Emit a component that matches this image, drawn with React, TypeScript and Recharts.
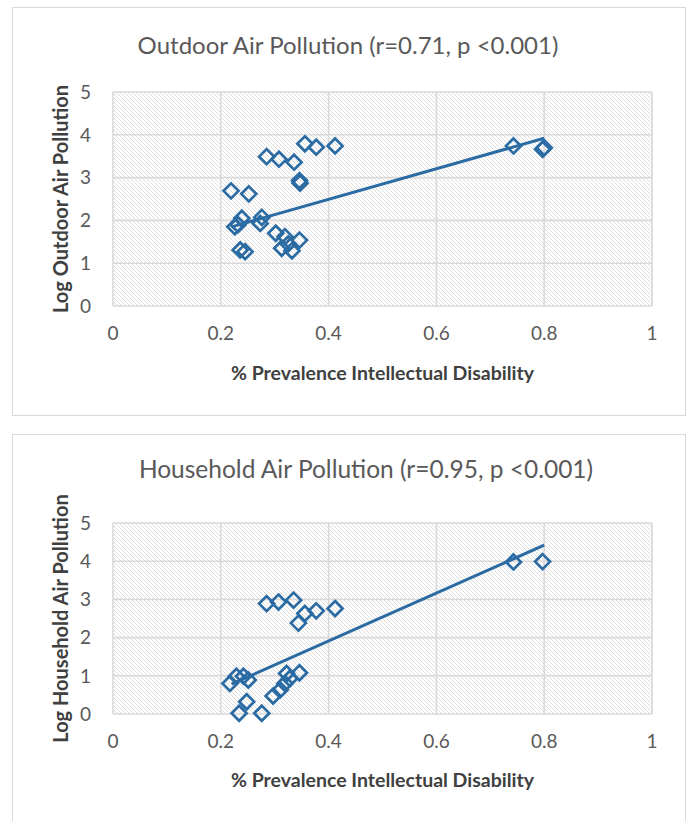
import React from "react";
import { ScatterChart, Scatter, XAxis, YAxis, CartesianGrid } from "recharts";

const xTicks = [0, 0.2, 0.4, 0.6, 0.8, 1];
const yTicks = [0, 1, 2, 3, 4, 5];

const outdoorX = [0.285, 0.308, 0.336, 0.356, 0.377, 0.412, 0.346, 0.347, 0.219, 0.252, 0.239, 0.226, 0.232, 0.276, 0.273, 0.302, 0.319, 0.346, 0.313, 0.332, 0.325, 0.236, 0.245, 0.743, 0.797, 0.8];
const outdoorY = [3.49, 3.43, 3.36, 3.79, 3.71, 3.74, 2.93, 2.87, 2.69, 2.62, 2.05, 1.85, 1.9, 2.07, 1.93, 1.7, 1.62, 1.54, 1.35, 1.29, 1.45, 1.31, 1.27, 3.74, 3.66, 3.7];
const outdoorTrendX = [0.22, 0.8];
const outdoorTrendY = [1.85, 3.92];

const householdX = [0.285, 0.307, 0.335, 0.356, 0.377, 0.412, 0.344, 0.217, 0.229, 0.242, 0.251, 0.297, 0.31, 0.319, 0.328, 0.346, 0.322, 0.248, 0.234, 0.276, 0.743, 0.797];
const householdY = [2.89, 2.93, 2.98, 2.63, 2.7, 2.76, 2.38, 0.8, 0.99, 0.99, 0.89, 0.47, 0.63, 0.8, 0.93, 1.08, 1.06, 0.32, 0.02, 0.02, 3.98, 3.99];
const householdTrendX = [0.22, 0.8];
const householdTrendY = [0.78, 4.42];

const BLUE = "#2b6ba3";
const FONT = "Lato, 'Open Sans', sans-serif";

const toPts = (xs: number[], ys: number[]) => xs.map((x, i) => ({ x, y: ys[i] }));

const Diamond = (props: any) => {
  const { cx, cy } = props;
  if (cx == null || cy == null) return <g />;
  const r = 7.5;
  return (
    <path
      d={`M${cx},${cy - r} L${cx + r},${cy} L${cx},${cy + r} L${cx - r},${cy} Z`}
      fill="none"
      stroke={BLUE}
      strokeWidth={2.7}
      strokeLinejoin="miter"
    />
  );
};

const NoShape = () => <g />;

type PanelProps = {
  id: string;
  top: number;
  height: number;
  marginTop: number;
  xAxisHeight: number;
  yLabel: string;
  points: { x: number; y: number }[];
  trend: { x: number; y: number }[];
};

const Panel = ({ id, top, height, marginTop, xAxisHeight, yLabel, points, trend }: PanelProps) => (
  <div style={{ position: "absolute", left: 0, top }}>
    <ScatterChart
      width={690}
      height={height}
      margin={{ top: marginTop, right: 38, bottom: 0, left: 9 }}
    >
      <defs>
        <pattern id={id} width="4" height="4" patternUnits="userSpaceOnUse">
          <rect width="4" height="4" fill="#ffffff" />
          <path d="M-1,-1 L5,5 M-1,3 L1,5 M3,-1 L5,1" stroke="#d6d6d6" strokeWidth="0.8" />
        </pattern>
      </defs>
      <CartesianGrid fill={`url(#${id})`} fillOpacity={1} stroke="#d9d9d9" strokeWidth={1.6} />
      <XAxis
        type="number"
        dataKey="x"
        domain={[0, 1]}
        ticks={xTicks}
        axisLine={false}
        tickLine={false}
        tickSize={0}
        tickMargin={21}
        height={xAxisHeight}
        tick={{ fill: "#595959", fontSize: 19, fontFamily: FONT }}
        label={{
          value: "% Prevalence Intellectual Disability",
          position: "center",
          fill: "#404040",
          fontSize: 19.5,
          fontWeight: "bold",
          fontFamily: FONT,
        }}
      />
      <YAxis
        type="number"
        dataKey="y"
        domain={[0, 5]}
        ticks={yTicks}
        axisLine={false}
        tickLine={false}
        tickSize={0}
        tickMargin={22}
        width={104}
        tick={{ fill: "#595959", fontSize: 19, fontFamily: FONT }}
        label={{
          value: yLabel,
          angle: -90,
          position: "center",
          fill: "#404040",
          fontSize: 20,
          fontWeight: "bold",
          fontFamily: FONT,
        }}
      />
      <Scatter
        data={trend}
        line={{ stroke: BLUE, strokeWidth: 3 }}
        lineType="joint"
        shape={NoShape}
        isAnimationActive={false}
      />
      <Scatter data={points} shape={Diamond} isAnimationActive={false} />
    </ScatterChart>
  </div>
);

const boxStyle = (top: number, height: number): React.CSSProperties => ({
  position: "absolute",
  left: 12,
  top,
  width: 674,
  height,
  border: "1.5px solid #d9d9d9",
  background: "#ffffff",
  boxSizing: "border-box",
});

export default function App() {
  return (
    <div style={{ position: "absolute", left: 0, top: 0, width: 690, height: 821, overflow: "hidden", background: "#ffffff" }}>
      <div style={boxStyle(7, 409)} />
      <div style={boxStyle(434, 420)} />
      <div
        style={{
          position: "absolute",
          left: 0,
          top: 28,
          width: 696,
          textAlign: "center",
          fontFamily: FONT,
          fontSize: 24,
          color: "#595959",
          lineHeight: "34px",
          whiteSpace: "nowrap",
        }}
      >
        Outdoor Air Pollution (r=0.71, p &lt;0.001)
      </div>
      <div
        style={{
          position: "absolute",
          left: 0,
          top: 452,
          width: 732,
          textAlign: "center",
          fontFamily: FONT,
          fontSize: 24.5,
          color: "#595959",
          lineHeight: "34px",
          whiteSpace: "nowrap",
        }}
      >
        Household Air Pollution (r=0.95, p &lt;0.001)
      </div>
      <Panel
        id="hatchTop"
        top={0}
        height={440}
        marginTop={92}
        xAxisHeight={134}
        yLabel="Log Outdoor Air Pollution"
        points={toPts(outdoorX, outdoorY)}
        trend={toPts(outdoorTrendX, outdoorTrendY)}
      />
      <Panel
        id="hatchBottom"
        top={420}
        height={426}
        marginTop={103}
        xAxisHeight={132}
        yLabel="Log Household Air Pollution"
        points={toPts(householdX, householdY)}
        trend={toPts(householdTrendX, householdTrendY)}
      />
    </div>
  );
}
